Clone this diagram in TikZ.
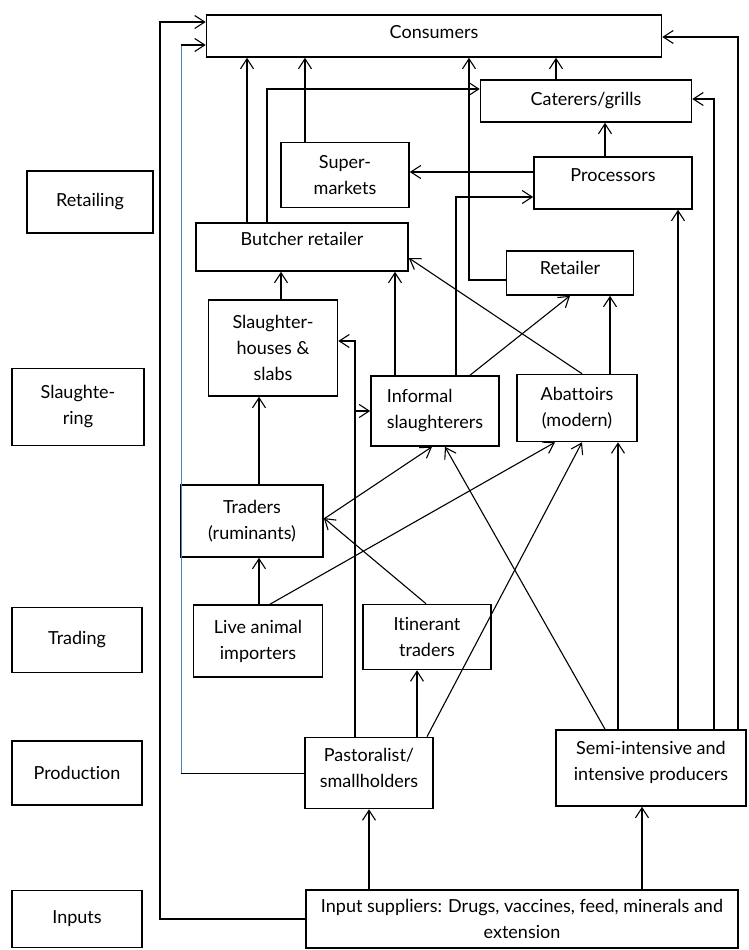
\documentclass[tikz,border=0pt]{standalone}
\usepackage{fontspec}
\setmainfont{Lato}[Ligatures=NoCommon]
\usetikzlibrary{arrows.meta}

\tikzset{
  box/.style={draw, rectangle, line width=1.6pt, align=center, inner sep=2pt,
    font=\fontsize{18}{26}\selectfont},
  raised/.style={text depth=#1},
  flow/.style={line width=1.1pt, -{Straight Barb[length=10pt,width=13pt]}},
}
\definecolor{railblue}{RGB}{79,129,189}

\begin{document}
\begin{tikzpicture}[x=1pt,y=-1pt]
  \useasboundingbox (0,0) rectangle (748,950);

  % stage labels
  \node[box,minimum width=126,minimum height=62] (Retailing) at (90,202) {Retailing};
  \node[box,minimum width=132,minimum height=77] (Slaughtering) at (78,407) {Slaughte-\\ring};
  \node[box,minimum width=130,minimum height=65] (Trading) at (77,640) {Trading};
  \node[box,minimum width=130,minimum height=64] (Production) at (77,773) {Production};
  \node[box,minimum width=130,minimum height=57] (Inputs) at (77,919) {Inputs};

  % chain actors
  \node[box,raised=9pt,minimum width=455,minimum height=42] (Consumers) at (434,36) {Consumers};
  \node[box,minimum width=211,minimum height=42] (Caterers) at (586,101) {Caterers/grills};
  \node[box,raised=16pt,minimum width=158,minimum height=52] (Processors) at (613,183) {Processors};
  \node[box,minimum width=128,minimum height=65] (Supermarkets) at (345,175) {Super-\\markets};
  \node[box,raised=16pt,minimum width=212,minimum height=48] (Butcher) at (302,247) {Butcher retailer};
  \node[box,raised=10pt,minimum width=127,minimum height=44] (Retailer) at (570,273) {Retailer};
  \node[box,minimum width=129,minimum height=96] (Slabs) at (273,348) {Slaughter-\\houses \&\\slabs};
  \node[box,minimum width=128,minimum height=70,align=left] (Informal) at (435,411) {Informal\\slaughterers};
  \node[box,minimum width=120,minimum height=67] (Abattoirs) at (577,408) {Abattoirs\\(modern)};
  \node[box,minimum width=142,minimum height=72] (Traders) at (252,521) {Traders\\(ruminants)};
  \node[box,minimum width=129,minimum height=72] (Importers) at (258,641) {Live animal\\importers};
  \node[box,minimum width=128,minimum height=65] (Itinerant) at (427,637) {Itinerant\\traders};
  \node[box,raised=10pt,minimum width=128,minimum height=71] (Pastoralist) at (369,773) {Pastoralist/\\smallholders};
  \node[box,raised=14pt,minimum width=190,minimum height=76] (Intensive) at (651,768) {Semi-intensive and\\intensive producers};
  \node[box,minimum width=432,minimum height=58] (Suppliers) at (522,919)
    {Input suppliers: Drugs, vaccines, feed, minerals and\\extension};

  % bend points of the long runs
  \coordinate (InputRail) at (160,22);
  \coordinate (HerdRail) at (181,45);
  \coordinate (FarmRail) at (738,37);
  \coordinate (GrillRail) at (714,99);
  \coordinate (SlabRail) at (355,341);
  \coordinate (ProcRail) at (456,197);
  \coordinate (ShopRail) at (469,280);
  \coordinate (ButchRail) at (267,89);

  % long runs round the sides
  \draw[flow] (Suppliers.west) -| (InputRail) -- (Consumers.west |- InputRail);
  \draw[line width=0.8pt] (Pastoralist.west) -- (Pastoralist.west -| HerdRail);
  \draw[railblue,line width=0.8pt] (Pastoralist.west -| HerdRail) -- (HerdRail);
  \draw[flow] (HerdRail) -- (Consumers.west |- HerdRail);
  \draw[flow] (Intensive.north -| FarmRail) |- (Consumers.east |- FarmRail);
  \draw[flow] (Intensive.north -| GrillRail) |- (Caterers.east |- GrillRail);

  % inputs and producers
  \draw[flow] (Suppliers.north -| Pastoralist) -- (Pastoralist.south);
  \draw[flow] (Suppliers.north -| 642,0) -- (Intensive.south -| 642,0);
  \draw[flow] (Intensive.north -| 678,0) -- (Processors.south -| 678,0);
  \draw[flow] (Intensive.north -| 618,0) -- (Abattoirs.south -| 618,0);
  \draw[flow] (Intensive.north -| 605,0) -- (Informal.south -| 445,0);
  \draw[flow] (Pastoralist.north -| 417,0) -- (Itinerant.south -| 417,0);
  \draw[flow] (Pastoralist.north -| 427,0) -- (Abattoirs.south -| 582,0);
  \draw[flow] (Pastoralist.north -| SlabRail) -- (SlabRail) -- (Slabs.east |- SlabRail);
  \draw[flow] (SlabRail |- Informal.west) -- (Informal.west);

  % trading
  \draw[flow] (Itinerant.north -| 426,0) -- (Traders.east |- 0,518);
  \draw[flow] (Importers.north -| 259,0) -- (Traders.south -| 259,0);
  \draw[flow] (Importers.north -| 270,0) -- (Abattoirs.south -| 555,0);
  \draw[flow] (Traders.east |- 0,519) -- (Informal.south -| 432,0);
  \draw[flow] (Traders.north -| 259,0) -- (Slabs.south -| 259,0);

  % slaughtering to retailing
  \draw[flow] (Slabs.north -| 281,0) -- (Butcher.south -| 281,0);
  \draw[flow] (Informal.north -| 395,0) -- (Butcher.south -| 395,0);
  \draw[flow] (Informal.north -| ProcRail) |- (Processors.west |- ProcRail);
  \draw[flow] (Informal.north -| 470,0) -- (Retailer.south -| 570,0);
  \draw[flow] (Abattoirs.north -| 610,0) -- (Retailer.south -| 610,0);
  \draw[flow] (Abattoirs.north -| 582,0) -- (Butcher.east |- 0,258);

  % retailing to consumers
  \draw[flow] (Retailer.west |- ShopRail) -| (Consumers.south -| ShopRail);
  \draw[flow] (Butcher.north -| 247,0) -- (Consumers.south -| 247,0);
  \draw[flow] (Butcher.north -| ButchRail) |- (Caterers.west |- ButchRail);
  \draw[flow] (Supermarkets.north -| 305,0) -- (Consumers.south -| 305,0);
  \draw[flow] (Processors.west |- 0,172) -- (Supermarkets.east |- 0,172);
  \draw[flow] (Processors.north -| 605,0) -- (Caterers.south -| 605,0);
  \draw[flow] (Caterers.north -| 556,0) -- (Consumers.south -| 556,0);
\end{tikzpicture}
\end{document}
